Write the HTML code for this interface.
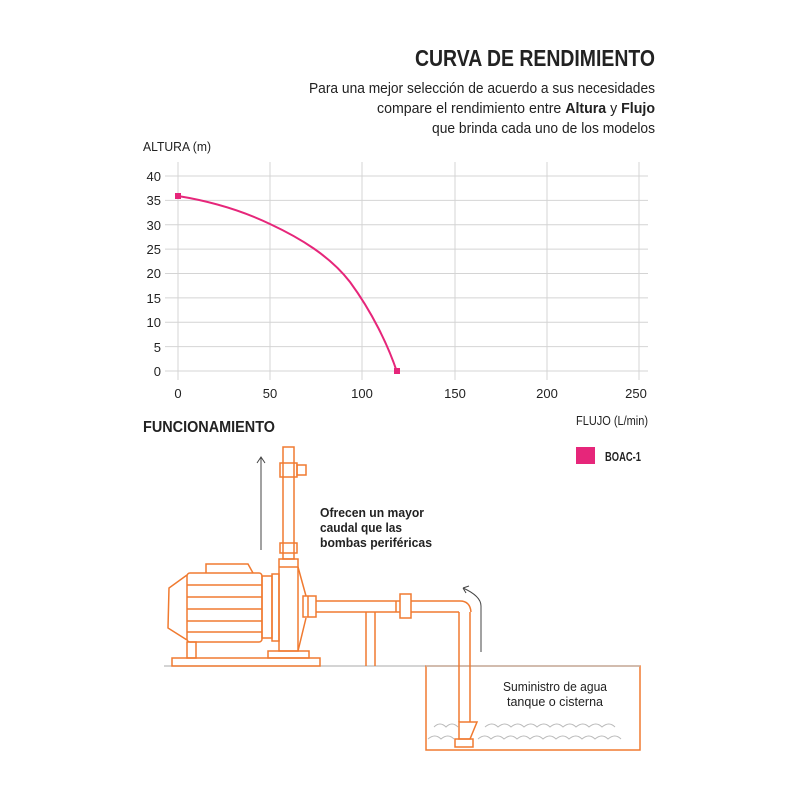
<!DOCTYPE html>
<html><head><meta charset="utf-8"><style>
body{margin:0;background:#fff;}
svg{display:block;font-family:"Liberation Sans",sans-serif;}
</style></head><body>
<svg width="800" height="800" viewBox="0 0 800 800">
<rect width="800" height="800" fill="#fff"/>
<!-- header -->
<text x="655" y="66" text-anchor="end" font-size="23" font-weight="bold" fill="#222" textLength="240" lengthAdjust="spacingAndGlyphs">CURVA DE RENDIMIENTO</text>
<text x="655" y="93" text-anchor="end" font-size="15" fill="#222" textLength="346" lengthAdjust="spacingAndGlyphs">Para una mejor selección de acuerdo a sus necesidades</text>
<text x="655" y="113" text-anchor="end" font-size="15" fill="#222" textLength="278" lengthAdjust="spacingAndGlyphs">compare el rendimiento entre <tspan font-weight="bold">Altura</tspan> y <tspan font-weight="bold">Flujo</tspan></text>
<text x="655" y="133" text-anchor="end" font-size="15" fill="#222" textLength="223" lengthAdjust="spacingAndGlyphs">que brinda cada uno de los modelos</text>
<text x="143" y="151" font-size="13" fill="#222" textLength="68" lengthAdjust="spacingAndGlyphs">ALTURA  (m)</text>
<!-- grid -->
<g stroke="#d4d4d4" stroke-width="1">
<line x1="165" y1="176" x2="648" y2="176"/><line x1="165" y1="200.4" x2="648" y2="200.4"/>
<line x1="165" y1="224.8" x2="648" y2="224.8"/><line x1="165" y1="249.1" x2="648" y2="249.1"/>
<line x1="165" y1="273.5" x2="648" y2="273.5"/><line x1="165" y1="297.9" x2="648" y2="297.9"/>
<line x1="165" y1="322.3" x2="648" y2="322.3"/><line x1="165" y1="346.6" x2="648" y2="346.6"/>
<line x1="165" y1="371" x2="648" y2="371"/>
<line x1="178" y1="162" x2="178" y2="380"/><line x1="270" y1="162" x2="270" y2="380"/>
<line x1="362" y1="162" x2="362" y2="380"/><line x1="455" y1="162" x2="455" y2="380"/>
<line x1="547" y1="162" x2="547" y2="380"/><line x1="639" y1="162" x2="639" y2="380"/>
</g>
<g font-size="13" fill="#222" text-anchor="end">
<text x="161" y="181">40</text><text x="161" y="205">35</text><text x="161" y="230">30</text>
<text x="161" y="254">25</text><text x="161" y="278">20</text><text x="161" y="303">15</text>
<text x="161" y="327">10</text><text x="161" y="352">5</text><text x="161" y="376">0</text>
</g>
<g font-size="13" fill="#222" text-anchor="middle">
<text x="178" y="398">0</text><text x="270" y="398">50</text><text x="362" y="398">100</text>
<text x="455" y="398">150</text><text x="547" y="398">200</text><text x="636" y="398">250</text>
</g>
<text x="648" y="425" text-anchor="end" font-size="13" fill="#222" textLength="72" lengthAdjust="spacingAndGlyphs">FLUJO (L/min)</text>
<path d="M178,196 C215,202 245,212 270,224 C300,238 330,256 350,282 C372,312 388,345 397,372" fill="none" stroke="#e6267a" stroke-width="2"/>
<rect x="175" y="193" width="6" height="6" fill="#e6267a"/>
<rect x="394" y="368" width="6" height="6" fill="#e6267a"/>
<text x="143" y="432" font-size="16" font-weight="bold" fill="#222" textLength="132" lengthAdjust="spacingAndGlyphs">FUNCIONAMIENTO</text>
<rect x="576" y="447" width="19" height="17" fill="#e6267a"/>
<text x="605" y="461" font-size="13" font-weight="bold" fill="#222" textLength="36" lengthAdjust="spacingAndGlyphs">BOAC-1</text>
<g font-size="13" font-weight="bold" fill="#222">
<text x="320" y="517" textLength="104" lengthAdjust="spacingAndGlyphs">Ofrecen un mayor</text>
<text x="320" y="532" textLength="82" lengthAdjust="spacingAndGlyphs">caudal que las</text>
<text x="320" y="547" textLength="112" lengthAdjust="spacingAndGlyphs">bombas periféricas</text>
</g>
<g font-size="13" fill="#222" text-anchor="middle">
<text x="555" y="691" textLength="104" lengthAdjust="spacingAndGlyphs">Suministro de agua</text>
<text x="555" y="706" textLength="96" lengthAdjust="spacingAndGlyphs">tanque o cisterna</text>
</g>
<!-- ground -->
<line x1="164" y1="666" x2="426" y2="666" stroke="#bbb" stroke-width="1.2"/>
<rect x="426" y="666" width="214" height="84" fill="none" stroke="#f07a30" stroke-width="1.5"/>
<line x1="426" y1="666" x2="640" y2="666" stroke="#bbb" stroke-width="1.2"/>
<!-- waves -->
<g fill="none" stroke="#bbb" stroke-width="1">
<path d="M434,727 q6,-6 12,0 q6,-6 12,0 M485,727 q7,-6 13,0 q7,-6 13,0 q7,-6 13,0 q7,-6 13,0 q7,-6 13,0 q7,-6 13,0 q7,-6 13,0 q7,-6 13,0 q7,-6 13,0 q7,-6 13,0"/>
<path d="M428,739 q7,-6 13,0 q7,-6 13,0 M478,739 q7,-6 13,0 q7,-6 13,0 q7,-6 13,0 q7,-6 13,0 q7,-6 13,0 q7,-6 13,0 q7,-6 13,0 q7,-6 13,0 q7,-6 13,0 q7,-6 13,0 q7,-6 13,0"/>
</g>
<!-- pump -->
<g fill="none" stroke="#f07a30" stroke-width="1.5">
<rect x="172" y="658" width="148" height="8"/>
<rect x="187" y="642" width="9" height="16"/>
<rect x="268" y="651" width="41" height="7"/>
<rect x="187" y="573" width="75" height="69" rx="3"/>
<path d="M187,575 L169,588 L168,628 L187,640"/>
<path d="M206,573 L206,564 L248,564 L253,573"/>
<path d="M187,585 H262 M187,597 H262 M187,609 H262 M187,621 H262 M187,632 H262"/>
<rect x="262" y="576" width="10" height="62"/>
<rect x="272" y="574" width="7" height="67"/>
<rect x="279" y="559" width="19" height="92"/>
<line x1="279" y1="567" x2="298" y2="567"/>
<path d="M298,567 L306,596 M306,618 L298,651"/>
<rect x="303" y="596" width="13" height="21"/>
<line x1="308" y1="596" x2="308" y2="617"/>
<rect x="283" y="447" width="11" height="112"/>
<rect x="280" y="463" width="17" height="14"/>
<rect x="297" y="465" width="9" height="10"/>
<rect x="280" y="543" width="17" height="10"/>
<path d="M316,601 H400 M316,612 H400 M411,601 H460 Q470,601 471,612 M411,612 H459"/>
<rect x="400" y="594" width="11" height="24"/>
<line x1="396" y1="601" x2="396" y2="612"/>
<path d="M459,612 V722 M470,612 V722"/>
<path d="M459,722 H477 L470,739 H459 Z"/>
<rect x="455" y="739" width="18" height="8"/>
<path d="M366,612 V666 M375,612 V666"/>
</g>
<!-- arrows -->
<g fill="none" stroke="#444" stroke-width="1">
<path d="M261,550 V457 M257,463 L261,457 L265,463"/>
<path d="M481,652 V606 Q481,596 463,588 M463,588 L469,586 M463,588 L466,593"/>
</g>
</svg>
</body></html>
